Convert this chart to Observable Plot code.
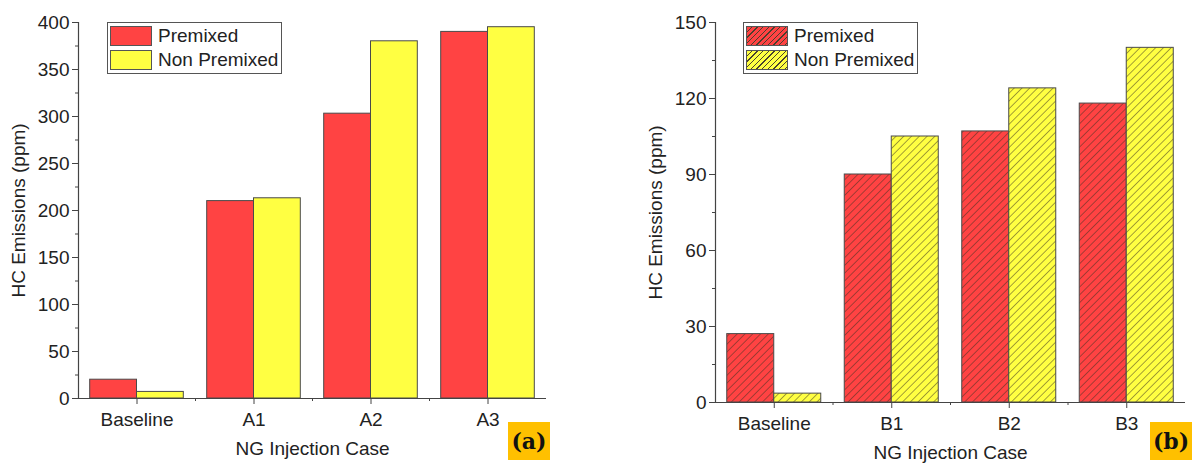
<!DOCTYPE html>
<html>
<head>
<meta charset="utf-8">
<script src="https://cdn.jsdelivr.net/npm/d3@7"></script>
<script src="https://cdn.jsdelivr.net/npm/@observablehq/plot@0.6"></script>
<style>
  html, body { margin: 0; padding: 0; background: #fff; }
  #wrap { position: relative; width: 1192px; height: 463px; overflow: hidden; font-family: "Liberation Sans", Arial, sans-serif; }
  .panel { position: absolute; top: 0; }
  .legend { position: absolute; background: #fff; border: 1px solid #555; padding: 1px 3px 1px 2px; font-size: 19px; color: #222; }
  .legend .row { display: flex; align-items: center; height: 24px; }
  .legend .sw { width: 42px; height: 20px; border: 1px solid #555; box-sizing: border-box; margin-right: 6px; }
  .tag { position: absolute; background: #ffc000; font-family: "DejaVu Serif", "Liberation Serif", serif; font-weight: bold; font-size: 22px; color: #111; width: 42px; height: 38px; line-height: 38px; text-align: center; }
</style>
</head>
<body>
<div id="wrap"></div>
<script>
// ---- data ----
const categoriesA = ["Baseline", "A1", "A2", "A3"];
const premixedA = [20, 210, 303, 390];
const nonPremixedA = [7, 213, 380, 395];
const yTicksA = [0, 50, 100, 150, 200, 250, 300, 350, 400];
const yMinorA = [25, 75, 125, 175, 225, 275, 325, 375];

const categoriesB = ["Baseline", "B1", "B2", "B3"];
const premixedB = [27, 90, 107, 118];
const nonPremixedB = [3.5, 105, 124, 140];
const yTicksB = [0, 30, 60, 90, 120, 150];
const yMinorB = [15, 45, 75, 105, 135];

const seriesNames = ["Premixed", "Non Premixed"];
const xLabel = "NG Injection Case";
const yLabel = "HC Emissions (ppm)";

const RED = "#ff4343";
const YELLOW = "#ffff42";

const wrap = document.getElementById("wrap");

function makeChart({categories, pre, non, yTicks, yMinor, yMax, left, width, marginLeft, marginRight, marginBottom, hatch, id}) {
  const rows = [];
  categories.forEach((c, i) => {
    rows.push({cat: c, series: seriesNames[0], i, x1: i - 0.4, x2: i, value: pre[i]});
    rows.push({cat: c, series: seriesNames[1], i, x1: i, x2: i + 0.4, value: non[i]});
  });
  const xDomain = [-0.5, categories.length - 0.5];
  const fillFor = d => hatch
    ? (d.series === seriesNames[0] ? `url(#${id}-red)` : `url(#${id}-yel)`)
    : (d.series === seriesNames[0] ? RED : YELLOW);
  const idx = categories.map((_, i) => i);
  const minorX = categories.slice(1).map((_, i) => i + 0.5);

  const svg = Plot.plot({
    width, height: 463,
    marginLeft, marginRight, marginTop: 22, marginBottom,
    style: {fontFamily: "'Liberation Sans', Arial, sans-serif", fontSize: "19px", color: "#222", background: "transparent"},
    x: {domain: xDomain, label: null},
    y: {domain: [0, yMax], label: null},
    marks: [
      Plot.rect(rows, {x1: "x1", x2: "x2", y1: 0, y2: "value", fill: fillFor, stroke: "#4a4a4a", strokeWidth: 1}),
      Plot.ruleY([0], {stroke: "#444", strokeWidth: 1.2}),
      Plot.ruleX([xDomain[0]], {stroke: "#444", strokeWidth: 1.2}),
      Plot.axisY({ticks: yTicks, tickSize: 6, tickPadding: 3, stroke: "#444", label: yLabel, labelAnchor: "center", labelOffset: 67, labelArrow: "none"}),
      Plot.axisY({ticks: yMinor, tickSize: 3, tickFormat: () => "", stroke: "#444", label: null}),
      Plot.axisX({ticks: idx, tickFormat: i => categories[i], tickSize: 6, tickPadding: 8, stroke: "#444", label: xLabel, labelAnchor: "center", labelOffset: 56, labelArrow: "none"}),
      Plot.axisX({ticks: minorX, tickSize: 3, tickFormat: () => "", stroke: "#444", label: null})
    ]
  });
  if (hatch) {
    const defs = d3.select(svg).insert("defs", ":first-child");
    [["red", RED], ["yel", YELLOW]].forEach(([k, col]) => {
      const p = defs.append("pattern")
        .attr("id", `${id}-${k}`)
        .attr("patternUnits", "userSpaceOnUse")
        .attr("width", 5.5).attr("height", 5.5)
        .attr("patternTransform", "rotate(45)");
      p.append("rect").attr("width", 5.5).attr("height", 5.5).attr("fill", col);
      p.append("line").attr("x1", 0).attr("y1", 0).attr("x2", 0).attr("y2", 5.5)
        .attr("stroke", "#3a3020").attr("stroke-width", 1.1).attr("stroke-opacity", 0.85);
    });
  }
  const holder = document.createElement("div");
  holder.className = "panel";
  holder.style.left = left + "px";
  holder.appendChild(svg);
  wrap.appendChild(holder);
}

makeChart({categories: categoriesA, pre: premixedA, non: nonPremixedA, yTicks: yTicksA, yMinor: yMinorA, yMax: 400,
  left: 0, width: 596, marginLeft: 78, marginRight: 50, marginBottom: 65, hatch: false, id: "a"});
makeChart({categories: categoriesB, pre: premixedB, non: nonPremixedB, yTicks: yTicksB, yMinor: yMinorB, yMax: 150,
  left: 596, width: 596, marginLeft: 119, marginRight: 7, marginBottom: 61, hatch: true, id: "b"});

function legend(left, top, hatch) {
  const lg = document.createElement("div");
  lg.className = "legend";
  lg.style.left = left + "px";
  lg.style.top = top + "px";
  [[seriesNames[0], RED], [seriesNames[1], YELLOW]].forEach(([name, col]) => {
    const row = document.createElement("div");
    row.className = "row";
    const sw = document.createElement("div");
    sw.className = "sw";
    sw.style.background = hatch
      ? `repeating-linear-gradient(135deg, ${col} 0px, ${col} 3px, rgba(40,30,10,0.85) 3px, rgba(40,30,10,0.85) 4px)`
      : col;
    const t = document.createElement("span");
    t.textContent = name;
    row.appendChild(sw); row.appendChild(t);
    lg.appendChild(row);
  });
  wrap.appendChild(lg);
}
legend(107, 22, false);
legend(743, 22, true);

function tag(text, left, top) {
  const t = document.createElement("div");
  t.className = "tag";
  t.textContent = text;
  t.style.left = left + "px";
  t.style.top = top + "px";
  wrap.appendChild(t);
}
tag("(a)", 508, 422);
tag("(b)", 1150, 422);
</script>
</body>
</html>
